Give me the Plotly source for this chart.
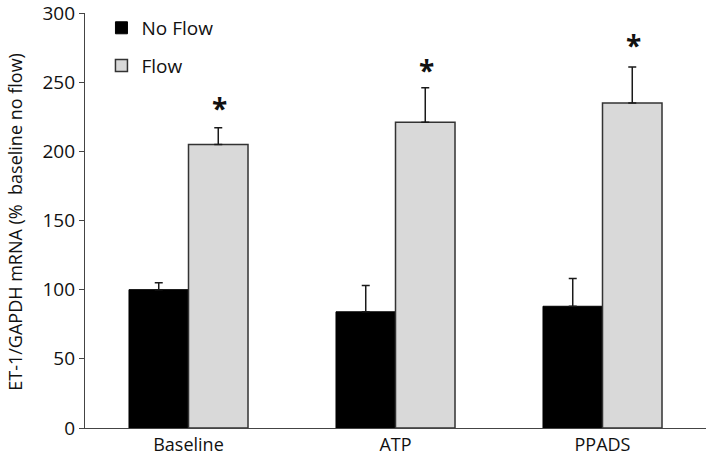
import plotly.graph_objects as go

categories = ["Baseline", "ATP", "PPADS"]
no_flow = [100, 84, 88]
no_flow_err = [5, 19, 20]
flow = [205, 221, 235]
flow_err = [12, 25, 26]
star_y = [231, 259, 277]
y_ticks = [0, 50, 100, 150, 200, 250, 300]

FONT = "Open Sans"
TXT = "#111111"

fig = go.Figure()
fig.add_trace(go.Bar(
    name="No Flow", x=categories, y=no_flow, legendgroup="a",
    marker=dict(color="black", line=dict(color="black", width=1)),
    error_y=dict(type="data", symmetric=False, array=no_flow_err,
                 arrayminus=[0]*3, color="#1a1a1a", thickness=1.5, width=4),
))
fig.add_trace(go.Bar(
    name="Flow", x=categories, y=flow, legendgroup="b",
    marker=dict(color="#d9d9d9", line=dict(color="#333333", width=1.5)),
    error_y=dict(type="data", symmetric=False, array=flow_err,
                 arrayminus=[0]*3, color="#1a1a1a", thickness=1.5, width=4),
))

for c, sy in zip(categories, star_y):
    fig.add_annotation(x=c, y=sy, text="<b>*</b>", showarrow=False, xshift=31,
                       font=dict(family=FONT, size=28, color=TXT),
                       xref="x", yref="y")

fig.add_annotation(
    text="ET-1/GAPDH mRNA (%  baseline no flow)", textangle=-90,
    xref="paper", yref="paper", x=-0.1127, y=0.497,
    xanchor="center", yanchor="middle", showarrow=False,
    font=dict(family=FONT, size=18, color=TXT),
)

fig.update_layout(
    width=709, height=462,
    margin=dict(l=85, r=3, t=13, b=34, autoexpand=False),
    paper_bgcolor="white", plot_bgcolor="white",
    barmode="group", bargap=0.425, bargroupgap=0,
    showlegend=True,
    legend=dict(x=0.0265, y=1.0098, xanchor="left", yanchor="top",
                font=dict(family=FONT, size=19, color=TXT),
                bgcolor="rgba(0,0,0,0)", tracegroupgap=10,
                traceorder="grouped", itemwidth=30),
    font=dict(family=FONT, color=TXT),
    xaxis=dict(showline=True, linecolor="#444", linewidth=1.2,
               ticks="", tickfont=dict(family=FONT, size=18, color=TXT),
               range=[-0.5, 2.5], showgrid=False, zeroline=False,
               automargin=False),
    yaxis=dict(range=[0, 300], tickvals=y_ticks, showline=True,
               linecolor="#444", linewidth=1.2, ticks="outside", ticklen=5,
               tickcolor="#444", showgrid=False, zeroline=False,
               automargin=False, ticklabeloverflow="allow",
               tickfont=dict(family=FONT, size=19, color=TXT)),
)

fig.write_html("out.html",
               config={"displayModeBar": False},
               post_script="document.body.style.margin='0';")
